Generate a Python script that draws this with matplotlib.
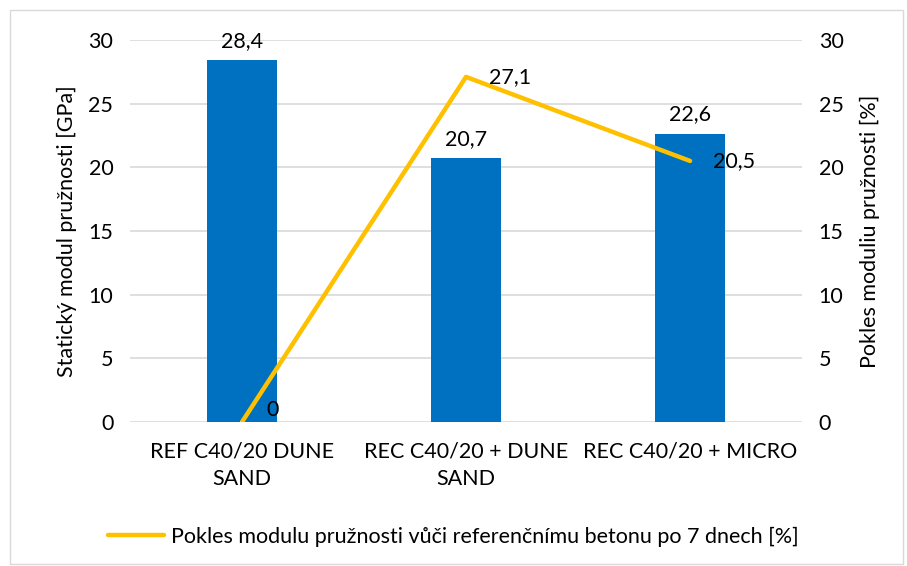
import numpy as np
import matplotlib.pyplot as plt
from matplotlib.patches import Rectangle

plt.rcParams['font.family'] = ['Lato', 'DejaVu Sans']

categories = ['REF C40/20 DUNE\nSAND', 'REC C40/20 + DUNE\nSAND', 'REC C40/20 + MICRO']
modulus = [28.4, 20.7, 22.6]
drop = [0, 27.1, 20.5]
line_name = 'Pokles modulu pružnosti vůči referenčnímu betonu po 7 dnech [%]'

bar_color = '#0070C0'
line_color = '#FFC000'
fs = 15.5

fig = plt.figure(figsize=(9.07, 5.66), dpi=100)
fig.patches.append(Rectangle((0.011, 0.004), 0.985, 0.978, transform=fig.transFigure,
                             fill=False, edgecolor='#d9d9d9', lw=1))
ax = fig.add_axes([0.1433, 0.2544, 0.741, 0.675])
ax2 = ax.twinx()

x = np.arange(len(categories))
ax.bar(x, modulus, width=0.31, color=bar_color, zorder=2)
for xi, v in zip(x, modulus):
    ax.annotate(f'{v:.1f}'.replace('.', ','), (xi, v), xytext=(0, 7),
                textcoords='offset points', ha='center', va='bottom', fontsize=fs)

ax2.plot(x, drop, color=line_color, lw=3.2, solid_capstyle='round', zorder=3)
for xi, v in zip(x, drop):
    if v == 0:
        ax2.annotate('0', (xi, v), xytext=(22, 9), textcoords='offset points',
                     ha='center', va='center', fontsize=fs)
    else:
        ax2.annotate(f'{v:.1f}'.replace('.', ','), (xi, v), xytext=(32, 0),
                     textcoords='offset points', ha='center', va='center', fontsize=fs)

for a in (ax, ax2):
    a.set_ylim(0, 30)
    a.set_yticks(range(0, 31, 5))
    a.tick_params(length=0, labelsize=fs, pad=12)
    for s in a.spines.values():
        s.set_visible(False)
ax.set_xlim(-0.5, 2.5)
ax.set_xticks(x)
ax.set_xticklabels(categories, fontsize=fs, linespacing=1.45)
ax.tick_params(axis='x', pad=14)
ax.grid(axis='y', color='#d9d9d9', lw=1.2, zorder=0)
ax.set_axisbelow(True)
ax.set_ylabel('Statický modul pružnosti [GPa]', fontsize=fs, labelpad=8)
ax2.set_ylabel('Pokles moduliu pružnosti [%]', fontsize=fs, labelpad=12)
ax2.set_zorder(ax.get_zorder() + 1)
ax2.patch.set_visible(False)

handle, = ax.plot([], [], color=line_color, lw=3.2, solid_capstyle='round')
fig.legend([handle], [line_name], loc='center', bbox_to_anchor=(0.5, 0.052),
           frameon=False, fontsize=fs, handlelength=2.6, handletextpad=0.3)

fig.savefig('out.png', dpi=100)
